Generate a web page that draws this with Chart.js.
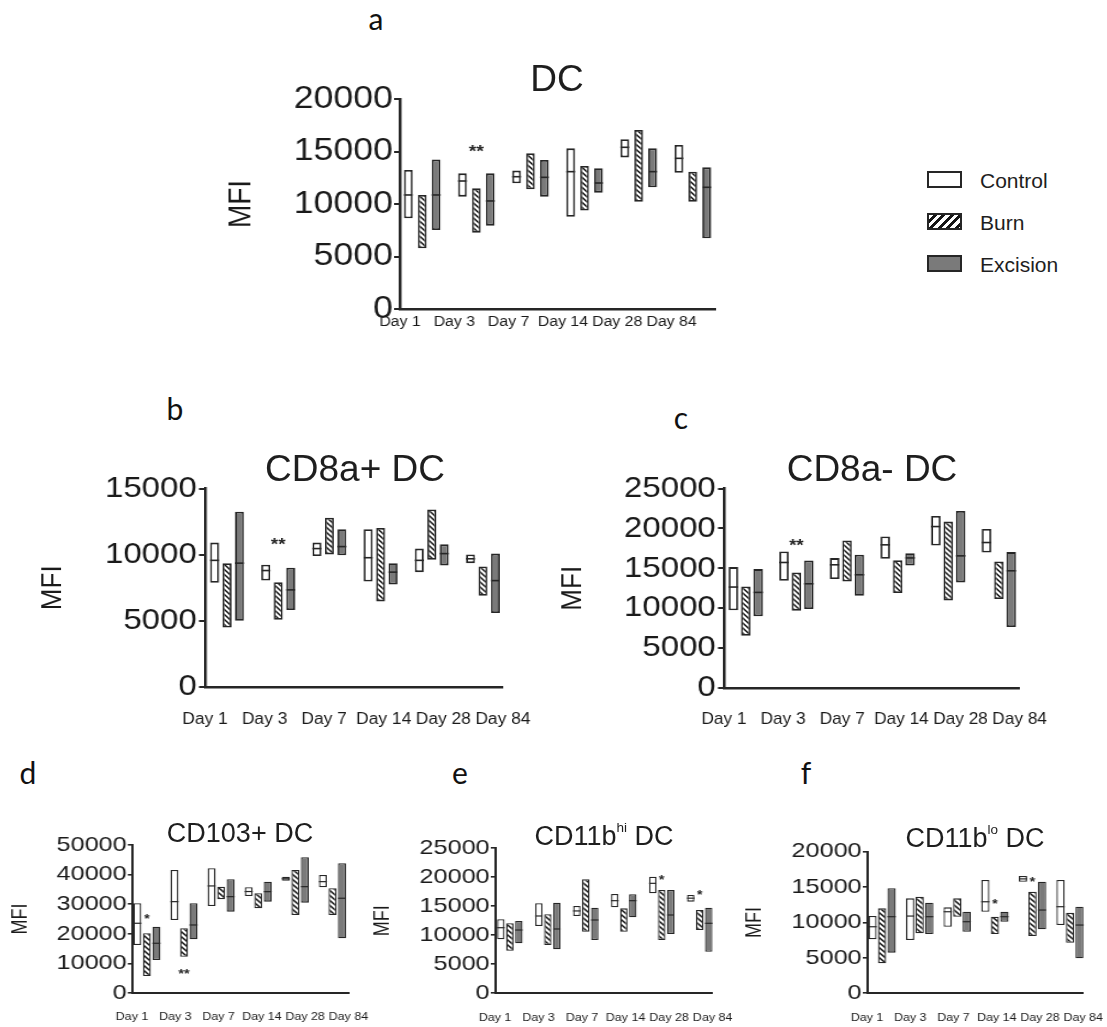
<!DOCTYPE html>
<html><head><meta charset="utf-8">
<script src="https://cdn.jsdelivr.net/npm/chart.js@4.4.1/dist/chart.umd.min.js"></script>
<style>
html,body{margin:0;padding:0;background:#fff;}
body{width:1107px;height:1027px;position:relative;overflow:hidden;font-family:"Liberation Sans",Arial,sans-serif;color:#1e1e1e;}
.wrap{position:absolute;transform-origin:0 0;}
.wrap canvas{display:block;}
.ttl{position:absolute;transform:translate(-50%,-50%);white-space:nowrap;line-height:1;}
.ttl sup{font-size:0.5em;line-height:0;vertical-align:0.9em;}
.ltr{position:absolute;transform:translate(-50%,-50%);line-height:1;font-family:Lato,"Open Sans",sans-serif;font-size:30px;color:#111;}
.lg{position:absolute;left:927px;width:35px;height:17px;box-sizing:border-box;border:2px solid #262626;}
.lgt{position:absolute;left:980px;font-size:21px;line-height:1;transform:translateY(-50%);color:#1e1e1e;}
</style></head><body>
<script>
// ---------- data ----------
const days = ['Day 1','Day 3','Day 7','Day 14','Day 28','Day 84'];
const seriesNames = ['Control','Burn','Excision'];

// a: DC
const aTicks = [0,5000,10000,15000,20000];
const aControlMin = [8640,10700,11970,8790,14440,12980];
const aControlMax = [13240,12920,13180,15300,16160,15620];
const aControlMed = [10860,12190,12600,13080,15400,14350];
const aBurnMin = [5780,7270,11400,9370,10220,10220];
const aBurnMax = [10860,11490,14830,13620,17050,13080];
const aExcMin = [7520,7940,10700,11080,11590,6730];
const aExcMax = [14250,12920,14190,13400,15300,13490];
const aExcMed = [10860,10290,12540,12000,13080,11590];
const aStars = [{cat:1, ds:1, value:15330, text:'**'}];

// b: CD8a+ DC
const bTicks = [0,5000,10000,15000];
const bControlMin = [7870,8040,9890,7970,8680,9360];
const bControlMax = [10910,9240,10910,11930,10460,10020];
const bControlMed = [9570,8800,10460,9770,9570,9690];
const bBurnMin = [4490,5080,10020,6470,9620,6900];
const bBurnMax = [9360,7920,12790,12020,13420,9110];
const bExcMin = [5000,5810,9950,7740,9190,5590];
const bExcMax = [13240,9010,11930,9360,10780,10080];
const bExcMed = [9360,7340,10610,8680,10080,8040];
const bStars = [{cat:1, ds:1, value:11040, text:'**'}];

// c: CD8a- DC
const cTicks = [0,5000,10000,15000,20000,25000];
const cControlMin = [9730,13440,13650,16190,17850,16980];
const cControlMax = [15150,17100,16280,18980,21560,19940];
const cControlMed = [12650,15730,15440,17940,20230,18230];
const cBurnMin = [6560,9690,13350,11900,10980,11150];
const cBurnMax = [12730,14480,18480,16000,20850,15850];
const cExcMin = [8980,9900,11560,15350,13230,7650];
const cExcMax = [14900,15980,16690,16900,22190,17030];
const cExcMed = [11980,13060,14190,16300,16560,14690];
const cStars = [{cat:1, ds:1, value:18310, text:'**'}];

// d: CD103+ DC
const dTicks = [0,10000,20000,30000,40000,50000];
const dControlMin = [16200,24670,29400,32790,37960,35720];
const dControlMax = [30300,41570,42150,35720,39300,39880];
const dControlMed = [23560,30860,36170,34280,38600,37620];
const dBurnMin = [5750,12270,31670,28630,26360,26360];
const dBurnMax = [20180,21870,35930,33700,41570,35390];
const dExcMin = [11150,18150,27480,30860,30520,18490];
const dExcMax = [22400,30320,38430,37620,45860,43840];
const dExcMed = [16800,22980,32550,34240,35930,32010];
const dStars = [{cat:0, ds:1, value:25800, text:'*'},{cat:1, ds:1, value:7200, text:'**'}];

// e: CD11b hi DC
const eTicks = [0,5000,10000,15000,20000,25000];
const eControlMin = [9310,11600,13330,14830,17240,15800];
const eControlMax = [12760,15520,15050,17120,20110,16950];
const eControlMed = [11310,13330,14200,15970,18960,16400];
const eBurnMin = [7340,8330,10620,10620,9190,10910];
const eBurnMax = [12070,13620,19660,14650,17810,14360];
const eExcMin = [8620,7590,9190,13100,10220,7170];
const eExcMax = [12460,15620,14760,17070,17810,14760];
const eExcMed = [10910,11090,12640,15970,13500,12070];
const eStars = [{cat:4, ds:1, value:19880, text:'*'},{cat:5, ds:1, value:17310, text:'*'}];

// f: CD11b lo DC
const fTicks = [0,5000,10000,15000,20000];
const fControlMin = [7620,7530,9400,11520,15760,9640];
const fControlMax = [10910,13410,12140,16000,16560,16000];
const fControlMed = [9400,10910,11520,12930,16160,12230];
const fBurnMin = [4240,8470,10820,8370,8090,7150];
const fBurnMax = [12000,13640,13410,10820,14350,11380];
const fExcMin = [5740,8370,8700,10110,9040,4940];
const fExcMax = [14830,12790,11520,11520,15760,12230];
const fExcMed = [10820,10820,10110,10820,11760,9640];
const fStars = [{cat:3, ds:1, value:12930, text:'*'},{cat:4, ds:1, value:16100, text:'*'}];

// ---------- drawing ----------
const FONT = '"Liberation Sans", Arial, sans-serif';
const INK = '#262626';
const TXT = '#1a1a1a';
const EXC_FILL = '#7a7a7a';

const boxPlugin = {
  id: 'boxExtras',
  afterDatasetsDraw(chart, args, opts) {
    const ctx = chart.ctx, ys = chart.scales.y;
    ctx.save();
    chart.data.datasets.forEach((ds, i) => {
      if (!ds.medians) return;
      chart.getDatasetMeta(i).data.forEach((bar, j) => {
        const m = ds.medians[j];
        if (m == null) return;
        const {x, width} = bar.getProps(['x','width'], true);
        const py = ys.getPixelForValue(m);
        ctx.beginPath();
        ctx.strokeStyle = INK; ctx.lineWidth = opts.medW;
        ctx.moveTo(x - width/2, py); ctx.lineTo(x + width/2, py);
        ctx.stroke();
      });
    });
    (opts.stars || []).forEach(s => {
      const bar = chart.getDatasetMeta(s.ds).data[s.cat];
      const py = ys.getPixelForValue(s.value);
      ctx.font = 'bold ' + opts.starSize + 'px ' + FONT;
      ctx.fillStyle = INK; ctx.textAlign = 'center'; ctx.textBaseline = 'middle';
      ctx.fillText(s.text, bar.x, py + opts.starSize * 0.25);
    });
    ctx.restore();
  }
};

function hatch(ctx) {
  const t = document.createElement('canvas'); t.width = 5; t.height = 5;
  const c = t.getContext('2d');
  c.fillStyle = '#fff'; c.fillRect(0,0,5,5);
  c.strokeStyle = '#151515'; c.lineWidth = 1.5;
  c.beginPath();
  c.moveTo(-1,-1); c.lineTo(6,6);
  c.moveTo(-1,4); c.lineTo(1,6);
  c.moveTo(4,-1); c.lineTo(6,1);
  c.stroke();
  return ctx.createPattern(t, 'repeat');
}

function makePanel(p) {
  const W = Math.round((p.cr - p.cl) / p.sx), H = Math.round(p.cb - p.ct);
  const wrap = document.createElement('div'); wrap.className = 'wrap';
  wrap.style.left = p.cl + 'px'; wrap.style.top = p.ct + 'px';
  wrap.style.width = W + 'px'; wrap.style.height = H + 'px';
  wrap.style.transform = 'scaleX(' + p.sx + ')';
  const cv = document.createElement('canvas'); cv.width = W; cv.height = H;
  wrap.appendChild(cv); document.body.appendChild(wrap);
  const ctx = cv.getContext('2d');
  const yW = (p.axL - p.cl) / p.sx;
  const padR = (p.cr - p.axR) / p.sx;
  const padT = p.axT - p.ct;
  const xlH = p.cb - p.axB;
  const mk = (label, mins, maxs, meds, bg) => ({
    label, data: days.map((d, i) => ({x: i, y: [mins[i], maxs[i]]})),
    medians: meds, backgroundColor: bg, borderColor: INK, borderWidth: p.bw,
    borderSkipped: false, barPercentage: p.barPct, categoryPercentage: p.catPct
  });
  new Chart(cv, {
    type: 'bar',
    data: { labels: days, datasets: [
      mk(seriesNames[0], p.c[0], p.c[1], p.c[2], '#ffffff'),
      mk(seriesNames[1], p.b[0], p.b[1], null, hatch(ctx)),
      mk(seriesNames[2], p.e[0], p.e[1], p.e[2], EXC_FILL)
    ]},
    options: {
      responsive: false, animation: false, devicePixelRatio: 1,
      layout: { padding: { top: padT, right: padR, left: 0, bottom: 0 } },
      plugins: { legend: { display: false }, tooltip: { enabled: false },
        boxExtras: { stars: p.stars, starSize: p.starSize, medW: p.medW } },
      scales: {
        x: { type: 'linear', min: p.xMin, max: p.xMax, bounds: 'data', offset: false, position: 'bottom',
          ticks: { display: false }, grid: { display: false, drawTicks: false },
          border: { display: true, color: INK, width: p.axW },
          afterFit: s => { s.height = 0; } },
        xl: { type: 'linear', min: 0, max: p.lMax, bounds: 'data', offset: false, position: 'bottom',
          afterBuildTicks: s => { s.ticks = days.map((d, i) => ({value: i})); },
          grid: { display: false, drawTicks: true, tickLength: p.xPad }, border: { display: false },
          ticks: { autoSkip: false, maxRotation: 0, minRotation: 0, padding: 0,
            font: { family: FONT, size: p.xFont }, color: TXT, callback: (v, i) => days[i] },
          afterFit: s => { s.height = xlH; } },
        y: { type: 'linear', min: 0, max: p.ticks[p.ticks.length - 1], position: 'left',
          afterBuildTicks: s => { s.ticks = p.ticks.map(v => ({value: v})); },
          ticks: { autoSkip: false, padding: p.tickPad, color: TXT,
            font: { family: FONT, size: p.tickFont }, callback: v => String(v) },
          grid: { display: true, drawOnChartArea: false, drawTicks: true, tickLength: p.tickLen,
            color: INK, lineWidth: p.axW * 0.8 },
          border: { display: true, color: INK, width: p.axW },
          title: { display: true, text: 'MFI', color: TXT, padding: 0,
            font: { family: FONT, size: p.titleFont, lineHeight: 1 } },
          afterFit: s => { s.width = yW; } }
      }
    },
    plugins: [boxPlugin]
  });
}

const big = { axW: 2.5, bw: 1.8, medW: 1.6, starSize: 17 };
const small = { axW: 2, bw: 1.3, medW: 1.2, starSize: 12 };

makePanel(Object.assign({}, big, { sx: 1.15, cl: 225, cr: 751, ct: 77, cb: 340,
  axL: 400, axR: 716, axT: 99, axB: 309, xMin: -0.41, xMax: 5.42, catPct: 0.77, barPct: 0.63, lMax: 5.81,
  ticks: aTicks, tickFont: 31, titleFont: 28, xFont: 13.8, xPad: 4.7, tickLen: 5.2, tickPad: 1,
  c: [aControlMin, aControlMax, aControlMed], b: [aBurnMin, aBurnMax], e: [aExcMin, aExcMax, aExcMed], stars: aStars }));

makePanel(Object.assign({}, big, { sx: 1.1, cl: 39, cr: 533, ct: 466, cb: 745,
  axL: 205, axR: 503, axT: 488.5, axB: 687, xMin: -0.43, xMax: 5.39, catPct: 0.73, barPct: 0.72, lMax: 5,
  ticks: bTicks, tickFont: 30, titleFont: 26, xFont: 15.8, xPad: 23.5, tickLen: 5.5, tickPad: 2,
  c: [bControlMin, bControlMax, bControlMed], b: [bBurnMin, bBurnMax], e: [bExcMin, bExcMax, bExcMed], stars: bStars }));

makePanel(Object.assign({}, big, { sx: 1.1, cl: 559, cr: 1050, ct: 466, cb: 745,
  axL: 724, axR: 1020, axT: 488.5, axB: 688, xMin: -0.43, xMax: 5.41, catPct: 0.735, barPct: 0.77, lMax: 5,
  ticks: cTicks, tickFont: 30, titleFont: 26, xFont: 15.7, xPad: 22.5, tickLen: 5.5, tickPad: 2,
  c: [cControlMin, cControlMax, cControlMed], b: [cBurnMin, cBurnMax], e: [cExcMin, cExcMax, cExcMed], stars: cStars }));

makePanel(Object.assign({}, small, { sx: 1.2, cl: 10, cr: 372, ct: 829, cb: 1027,
  axL: 132, axR: 348, axT: 845, axB: 993, xMin: -0.4, xMax: 5.43, catPct: 0.77, barPct: 0.84, lMax: 5,
  ticks: dTicks, tickFont: 21, titleFont: 18, xFont: 10.4, xPad: 17.8, tickLen: 3.5, tickPad: 1,
  c: [dControlMin, dControlMax, dControlMed], b: [dBurnMin, dBurnMax], e: [dExcMin, dExcMax, dExcMed], stars: dStars }));

makePanel(Object.assign({}, small, { sx: 1.2, cl: 372, cr: 736, ct: 832, cb: 1027,
  axL: 495, axR: 713, axT: 848.3, axB: 993.3, xMin: -0.39, xMax: 5.34, catPct: 0.71, barPct: 0.83, lMax: 5,
  ticks: eTicks, tickFont: 21, titleFont: 18, xFont: 10.4, xPad: 18.8, tickLen: 3.5, tickPad: 1,
  c: [eControlMin, eControlMax, eControlMed], b: [eBurnMin, eBurnMax], e: [eExcMin, eExcMax, eExcMed], stars: eStars }));

makePanel(Object.assign({}, small, { sx: 1.2, cl: 744, cr: 1105, ct: 835, cb: 1027,
  axL: 867, axR: 1083, axT: 851.7, axB: 993.3, xMin: -0.4, xMax: 5.35, catPct: 0.76, barPct: 0.87, lMax: 5,
  ticks: fTicks, tickFont: 21, titleFont: 18, xFont: 10.4, xPad: 18.8, tickLen: 3.5, tickPad: 1,
  c: [fControlMin, fControlMax, fControlMed], b: [fBurnMin, fBurnMax], e: [fExcMin, fExcMax, fExcMed], stars: fStars }));
</script>

<div class="ltr" style="left:376px;top:18px;">a</div>
<div class="ltr" style="left:175px;top:408px;">b</div>
<div class="ltr" style="left:681px;top:417px;">c</div>
<div class="ltr" style="left:28px;top:772px;">d</div>
<div class="ltr" style="left:460px;top:772px;">e</div>
<div class="ltr" style="left:806px;top:772px;">f</div>

<div class="ttl" style="left:557px;top:78px;font-size:37px;">DC</div>
<div class="ttl" style="left:355px;top:468px;font-size:37px;">CD8a+ DC</div>
<div class="ttl" style="left:872px;top:468px;font-size:37px;">CD8a- DC</div>
<div class="ttl" style="left:240px;top:833px;font-size:27px;">CD103+ DC</div>
<div class="ttl" style="left:604px;top:836px;font-size:27px;">CD11b<sup>hi</sup> DC</div>
<div class="ttl" style="left:975px;top:838px;font-size:27px;">CD11b<sup>lo</sup> DC</div>

<div class="lg" style="top:171px;background:#fff;"></div>
<div class="lgt" style="top:180px;">Control</div>
<div class="lg" style="top:213px;background:repeating-linear-gradient(135deg,#fff 0 3px,#151515 3px 6px);"></div>
<div class="lgt" style="top:222px;">Burn</div>
<div class="lg" style="top:255px;background:#7a7a7a;"></div>
<div class="lgt" style="top:264px;">Excision</div>
</body></html>
